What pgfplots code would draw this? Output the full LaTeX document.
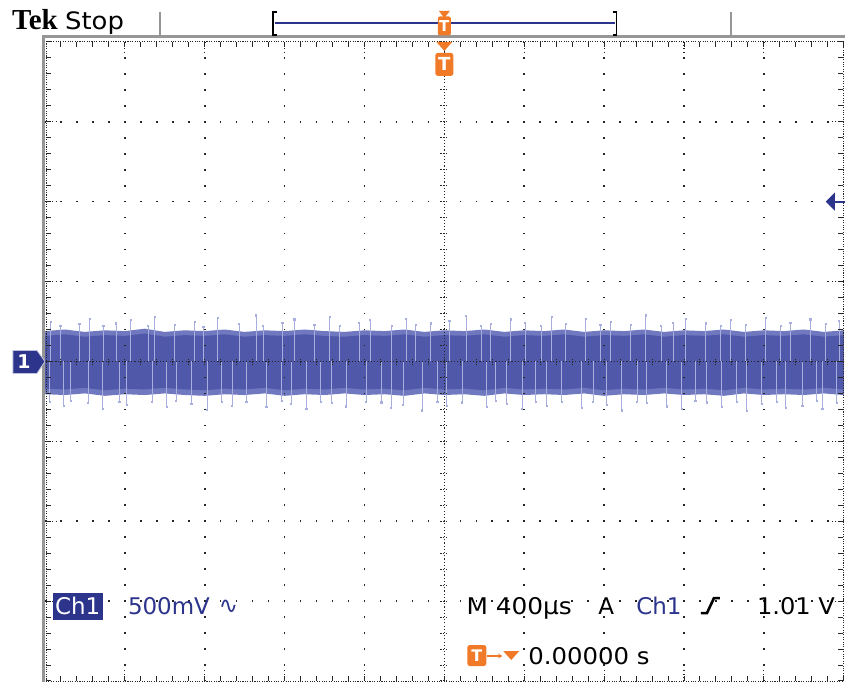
\documentclass[border=0pt]{standalone}
\usepackage{pgfplots}
\usepackage{pgfplotstable}
\pgfplotsset{compat=1.18}
\usepgfplotslibrary{fillbetween}
\usetikzlibrary{arrows.meta}
\usepackage{fontspec}
\setmainfont{DejaVu Sans}
\newfontfamily\tekfont{Liberation Serif}
\definecolor{tekblue}{RGB}{44,52,140}
\definecolor{bandouter}{RGB}{112,120,192}
\definecolor{bandinner}{RGB}{80,88,170}
\definecolor{spikeblue}{RGB}{168,174,222}
\definecolor{tekorange}{RGB}{240,122,40}
\definecolor{framegray}{RGB}{150,150,150}

\pgfplotstableread{
x up lo ui li
-5.00 0.38 -0.41 0.32 -0.34
-4.75 0.40 -0.42 0.34 -0.35
-4.50 0.37 -0.40 0.31 -0.33
-4.25 0.39 -0.43 0.33 -0.36
-4.00 0.38 -0.41 0.32 -0.34
-3.75 0.41 -0.42 0.35 -0.35
-3.50 0.37 -0.40 0.31 -0.33
-3.25 0.39 -0.42 0.33 -0.35
-3.00 0.38 -0.43 0.32 -0.36
-2.75 0.40 -0.41 0.34 -0.34
-2.50 0.37 -0.42 0.31 -0.35
-2.25 0.39 -0.40 0.33 -0.33
-2.00 0.38 -0.43 0.32 -0.36
-1.75 0.40 -0.41 0.34 -0.34
-1.50 0.38 -0.42 0.32 -0.35
-1.25 0.37 -0.40 0.31 -0.33
-1.00 0.39 -0.42 0.33 -0.35
-0.75 0.38 -0.41 0.32 -0.34
-0.50 0.40 -0.43 0.34 -0.36
-0.25 0.37 -0.40 0.31 -0.33
 0.00 0.39 -0.42 0.33 -0.35
 0.25 0.38 -0.41 0.32 -0.34
 0.50 0.40 -0.43 0.34 -0.36
 0.75 0.37 -0.40 0.31 -0.33
 1.00 0.39 -0.42 0.33 -0.35
 1.25 0.38 -0.41 0.32 -0.34
 1.50 0.40 -0.42 0.34 -0.35
 1.75 0.37 -0.40 0.31 -0.33
 2.00 0.39 -0.43 0.33 -0.36
 2.25 0.38 -0.41 0.32 -0.34
 2.50 0.40 -0.42 0.34 -0.35
 2.75 0.37 -0.40 0.31 -0.33
 3.00 0.39 -0.42 0.33 -0.35
 3.25 0.38 -0.41 0.32 -0.34
 3.50 0.40 -0.43 0.34 -0.36
 3.75 0.37 -0.40 0.31 -0.33
 4.00 0.39 -0.42 0.33 -0.35
 4.25 0.38 -0.41 0.32 -0.34
 4.50 0.40 -0.42 0.34 -0.35
 4.75 0.37 -0.40 0.31 -0.33
 5.00 0.39 -0.42 0.33 -0.35
}\band

\pgfplotstableread{
x y
-4.93 0.50
-4.81 0.45
-4.57 0.47
-4.44 0.54
-4.27 0.45
-4.11 0.48
-3.93 0.52
-3.71 0.45
-3.63 0.56
-3.38 0.46
-3.13 0.50
-3.02 0.44
-2.84 0.55
-2.57 0.47
-2.36 0.58
-2.27 0.45
-2.03 0.49
-1.88 0.53
-1.63 0.46
-1.44 0.56
-1.31 0.45
-1.07 0.49
-0.93 0.52
-0.66 0.45
-0.48 0.54
-0.36 0.46
-0.17 0.48
 0.06 0.51
 0.27 0.57
 0.46 0.45
 0.58 0.47
 0.83 0.53
 1.01 0.49
 1.21 0.45
 1.34 0.56
 1.52 0.47
 1.77 0.54
 1.95 0.46
 2.08 0.50
 2.33 0.46
 2.52 0.58
 2.71 0.45
 2.86 0.49
 3.02 0.54
 3.27 0.48
 3.46 0.45
 3.58 0.52
 3.77 0.46
 4.02 0.55
 4.21 0.45
 4.33 0.49
 4.58 0.53
 4.77 0.47
 4.94 0.51
}\upspikes

\pgfplotstableread{
x y
-4.94 -0.50
-4.77 -0.55
-4.68 -0.49
-4.46 -0.52
-4.28 -0.59
-4.07 -0.50
-3.98 -0.54
-3.66 -0.50
-3.48 -0.57
-3.36 -0.49
-3.17 -0.53
-2.97 -0.60
-2.79 -0.50
-2.66 -0.55
-2.48 -0.50
-2.23 -0.57
-2.04 -0.49
-1.92 -0.53
-1.73 -0.59
-1.55 -0.50
-1.41 -0.52
-1.23 -0.56
-0.98 -0.50
-0.79 -0.51
-0.67 -0.58
-0.52 -0.54
-0.28 -0.61
-0.09 -0.50
 0.03 -0.55
 0.22 -0.51
 0.53 -0.57
 0.64 -0.49
 0.78 -0.53
 0.97 -0.59
 1.14 -0.50
 1.28 -0.55
 1.47 -0.50
 1.72 -0.58
 1.86 -0.50
 2.03 -0.54
 2.22 -0.61
 2.41 -0.50
 2.53 -0.52
 2.78 -0.56
 2.97 -0.59
 3.14 -0.49
 3.28 -0.51
 3.47 -0.57
 3.66 -0.50
 3.78 -0.62
 3.97 -0.53
 4.16 -0.50
 4.27 -0.58
 4.48 -0.55
 4.66 -0.49
 4.73 -0.59
 4.91 -0.52
}\lowspikes

\begin{document}
\begin{tikzpicture}[x=1pt,y=1pt]
\path (0,0) rectangle (846,683);
\begin{axis}[at={(45pt,1pt)}, anchor=south west, scale only axis,
  width=800pt, height=640pt,
  xmin=-5, xmax=5, ymin=-4, ymax=4,
  axis line style={draw=none}, ticks=none, clip=true]
  \addplot[ycomb, draw=spikeblue, line width=0.6pt, mark=none] table[x=x,y=y] {\upspikes};
  \addplot[ycomb, draw=spikeblue, line width=0.6pt, mark=none] table[x=x,y=y] {\lowspikes};
  \addplot[only marks, mark=square*, mark size=0.6pt, spikeblue, draw=none] table[x=x,y=y] {\upspikes};
  \addplot[only marks, mark=square*, mark size=0.6pt, spikeblue, draw=none] table[x=x,y=y] {\lowspikes};
  \addplot[name path=U, draw=none] table[x=x,y=up] {\band};
  \addplot[name path=L, draw=none] table[x=x,y=lo] {\band};
  \addplot[name path=UI, draw=none] table[x=x,y=ui] {\band};
  \addplot[name path=LI, draw=none] table[x=x,y=li] {\band};
  \addplot[fill=bandouter, draw=none] fill between[of=U and L];
  \addplot[fill=bandinner, draw=none] fill between[of=UI and LI];
\end{axis}
% ---------- graticule ----------
\tikzset{gdot/.style={line width=1.6pt, dash pattern=on 1.6pt off 14.4pt, dash phase=0.8pt, black!85}}
\foreach \x in {125,205,285,365,525,605,685,765}
  \draw[gdot] (\x,1) -- (\x,641);
\foreach \y in {81,161,241,401,481,561}
  \draw[gdot] (45,\y) -- (845,\y);
% center cross
\draw[line width=1.2pt, black!85, dash pattern=on 1.1pt off 2.1pt] (445,1) -- (445,641);
\draw[line width=1.2pt, black!85, dash pattern=on 1.1pt off 2.1pt] (45,321) -- (845,321);
\foreach \k in {0,...,40} {
  \draw[line width=1pt, black!85, dash pattern=on 1.2pt off 1.6pt] (441,1+16*\k) -- (449,1+16*\k);
}
\foreach \k in {0,...,50} {
  \draw[line width=1pt, black!85, dash pattern=on 1.2pt off 1.6pt] (45+16*\k,317) -- (45+16*\k,325);
}
% border ticks
\foreach \k in {0,...,40} {
  \draw[line width=1pt, black!85] (46,1+16*\k) -- (51,1+16*\k);
  \draw[line width=1pt, black!85] (844,1+16*\k) -- (839,1+16*\k);
}
\foreach \k in {0,...,50} {
  \draw[line width=1pt, black!85] (45+16*\k,641) -- (45+16*\k,636);
  \draw[line width=1pt, black!85] (45+16*\k,1) -- (45+16*\k,6);
}
\foreach \y in {81,161,241,321,401,481,561} {
  \draw[line width=1.2pt, black!85, dash pattern=on 1.1pt off 2.1pt] (46,\y) -- (58,\y);
  \draw[line width=1.2pt, black!85, dash pattern=on 1.1pt off 2.1pt] (844,\y) -- (832,\y);
}
\foreach \x in {125,205,285,365,445,525,605,685,765} {
  \draw[line width=1.2pt, black!85, dash pattern=on 1.1pt off 2.1pt] (\x,641) -- (\x,629);
  \draw[line width=1.2pt, black!85, dash pattern=on 1.1pt off 2.1pt] (\x,1) -- (\x,13);
}
% frame
\draw[line width=1.1pt, black!85, dash pattern=on 1.1pt off 1.3pt] (46,641.5) -- (845,641.5);
\draw[line width=1.1pt, black!85, dash pattern=on 1.1pt off 1.3pt] (845,1) -- (845,642);
\draw[line width=1.1pt, black!85, dash pattern=on 1.1pt off 1.3pt] (46,0.6) -- (845,0.6);
\draw[line width=1.1pt, black!85, dash pattern=on 1.1pt off 1.3pt] (46.2,0) -- (46.2,642);
\draw[line width=3pt, framegray] (43.5,0) -- (43.5,648);
\draw[line width=2.5pt, framegray] (42,646.5) -- (846,646.5);
% ---------- header ----------
\node[anchor=base west, inner sep=0pt, font=\tekfont\bfseries\fontsize{29}{29}\selectfont] at (12,653) {Tek};
\node[anchor=base west, inner sep=0pt, font=\fontsize{24}{24}\selectfont, xscale=1.08] at (65,653) {Stop};
\draw[line width=2pt, framegray] (160,671) -- (160,647);
\draw[line width=2pt, framegray] (732,671) -- (732,647);
\draw[line width=1.6pt, black] (277.5,671) -- (273.5,671) -- (273.5,648) -- (277.5,648);
\draw[line width=1.6pt, black] (613.5,671) -- (617.5,671) -- (617.5,648) -- (613.5,648);
\draw[line width=1.6pt, tekblue] (275,660) -- (616,660);
% top trigger position marker
\fill[tekorange] (439.5,672) -- (450.5,672) -- (445,665) -- cycle;
\fill[tekorange, rounded corners=2pt] (438.5,647.5) rectangle (451.5,666.5);
\node[white, font=\bfseries\fontsize{15}{15}\selectfont, inner sep=0pt] at (445,657) {T};
% trigger marker under frame top
\fill[tekorange] (437,641) -- (453,641) -- (445,632) -- cycle;
\fill[tekorange, rounded corners=2.5pt] (436,607) rectangle (454,630);
\node[white, font=\bfseries\fontsize{18}{18}\selectfont, inner sep=0pt] at (445,618.5) {T};
% ground marker
\fill[tekblue, draw=white!70!tekblue, line width=0.8pt] (13,332) -- (37,332) -- (45,321) -- (37,309) -- (13,309) -- cycle;
\node[white, font=\bfseries\fontsize{19}{19}\selectfont, inner sep=0pt] at (24,321) {1};
% trigger level arrow
\fill[tekblue] (827,481) -- (836,490) -- (836,472) -- cycle;
\draw[line width=2pt, tekblue] (835,481) -- (846,481);
% ---------- readouts ----------
\fill[tekblue] (53,62) rectangle (103,89);
\node[anchor=base west, inner sep=0pt, white, font=\fontsize{23}{23}\selectfont] at (55,68) {Ch1};
\node[anchor=base west, inner sep=0pt, tekblue, font=\fontsize{23}{23}\selectfont] at (128,68) {500mV};
\node[anchor=base west, inner sep=0pt, tekblue, font=\fontsize{23}{23}\selectfont] at (219,69) {∿};
\node[anchor=base west, inner sep=0pt, font=\fontsize{23}{23}\selectfont, xscale=1.08] at (467,68) {M 400µs};
\node[anchor=base west, inner sep=0pt, font=\fontsize{23}{23}\selectfont] at (599,68) {A};
\node[anchor=base west, inner sep=0pt, tekblue, font=\fontsize{23}{23}\selectfont] at (637,68) {Ch1};
\draw[line width=2.6pt, black] (702,69) -- (708,69) -- (715,84) -- (721,84);
\node[anchor=base west, inner sep=0pt, font=\fontsize{23}{23}\selectfont, xscale=1.05] at (758,68) {1.01 V};
\fill[tekorange, rounded corners=2.5pt] (468,16) rectangle (487,37);
\node[white, font=\bfseries\fontsize{16}{16}\selectfont, inner sep=0pt] at (477.5,26.5) {T};
\draw[tekorange, line width=1.6pt, -{Stealth[length=4pt,width=5pt]}] (488,26) -- (503,26);
\fill[tekorange] (504,31) -- (520,31) -- (512,22) -- cycle;
\node[anchor=base west, inner sep=0pt, font=\fontsize{23}{23}\selectfont, xscale=1.06] at (529,18) {0.00000 s};
\end{tikzpicture}
\end{document}
